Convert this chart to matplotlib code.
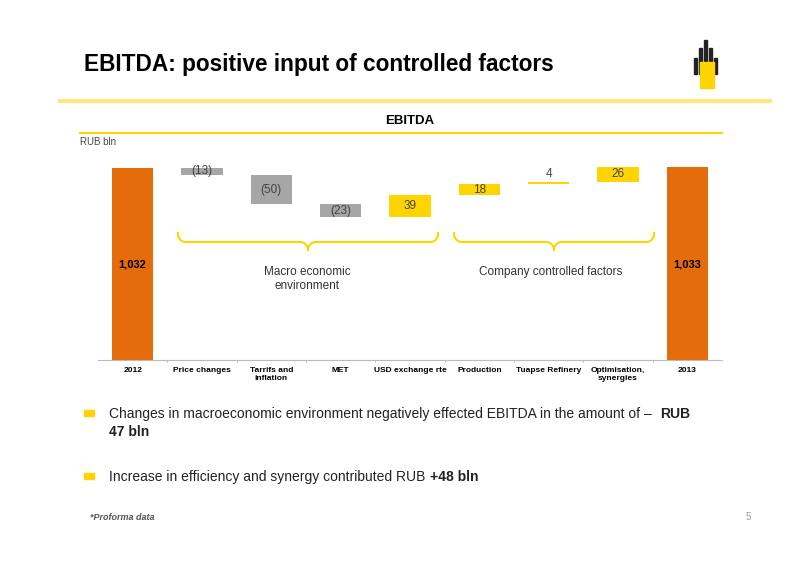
import matplotlib
matplotlib.use("Agg")
import matplotlib.pyplot as plt
import numpy as np
from matplotlib.patches import Rectangle

plt.rcParams['font.family'] = ['Liberation Sans', 'DejaVu Sans']

categories = ["2012", "Price changes", "Tarrifs and\ninflation", "MET", "USD exchange rte",
              "Production", "Tuapse Refinery", "Optimisation,\nsynergies", "2013"]
values = [1032, -13, -50, -23, 39, 18, 4, 26, 1033]
labels = ["1,032", "(13)", "(50)", "(23)", "39", "18", "4", "26", "1,033"]

ORANGE = "#E46C0A"
GREY = "#A6A6A6"
YELLOW = "#FFD400"

fig = plt.figure(figsize=(8, 5.66), dpi=100)
ax = fig.add_axes([98/800, 1-360/566, 624/800, 200/566])
ax.set_xlim(-0.5, len(categories)-0.5)
ax.set_ylim(700, 1045)
for s in ["top", "right", "left"]:
    ax.spines[s].set_visible(False)
ax.spines["bottom"].set_color("#BBBBBB")
ax.set_yticks([])
ax.set_xticks(np.arange(len(categories)))
ax.set_xticklabels(categories, fontsize=6, fontweight="bold", va="top")
ax.tick_params(axis="x", length=0, pad=5)
for b in np.arange(0.5, len(categories)-1, 1):
    ax.plot([b, b], [700, 696], color="#BBBBBB", lw=0.6, clip_on=False)

run = 0
for i, v in enumerate(values):
    if i == 0 or i == len(values)-1:
        ax.bar(i, v-700, bottom=700, width=0.6, color=ORANGE)
        ax.text(i, 864, labels[i], ha="center", va="center", fontsize=8, fontweight="bold")
        run = v
    else:
        lo, hi = (run+v, run) if v < 0 else (run, run+v)
        ax.bar(i, hi-lo, bottom=lo, width=0.6, color=GREY if v < 0 else YELLOW)
        ypos = (lo+hi)/2 if abs(v) > 10 else hi+3
        ax.text(i, ypos, labels[i], ha="center", va="center" if abs(v) > 10 else "bottom",
                fontsize=8.5, color="#444444")
        run += v

ov = fig.add_axes([0, 0, 1, 1], facecolor="none")
ov.set_xlim(0, 800); ov.set_ylim(566, 0); ov.axis("off")
ov.text(84, 64, "EBITDA: positive input of controlled factors", fontsize=16.3, fontweight="bold", va="center")
ov.plot([60, 770], [101, 101], color="#FFE680", lw=3)
ov.text(410, 121, "EBITDA", fontsize=9.5, fontweight="bold", ha="center", va="center")
ov.plot([80, 722], [133, 133], color=YELLOW, lw=1.5)
ov.text(80, 142, "RUB bln", fontsize=7, color="#444444", va="center")

def brace(x0, x1, y0, y1):
    xm = (x0+x1)/2
    t = np.linspace(0, np.pi/2, 20)
    r = 8
    xs = [x0] + list(x0 + r - r*np.cos(t)) + [xm - r] + list(xm - r + r*np.sin(t))
    ys = [y0 - 1] + list(y0 + r*np.sin(t)) + [y0 + r] + list(y0 + r + r*(1-np.cos(t)))
    ov.plot(xs, ys, color=YELLOW, lw=1.5)
    ov.plot([2*xm - x for x in xs], ys, color=YELLOW, lw=1.5)

brace(178, 438, 234, 258)
brace(454, 654, 234, 258)
ov.text(307, 279, "Macro economic\nenvironment", fontsize=8.5, ha="center", va="center", color="#333333")
ov.text(551, 272, "Company controlled factors", fontsize=8.5, ha="center", va="center", color="#333333")

ov.add_patch(Rectangle((84, 410), 10, 6, color=YELLOW))
ov.text(109, 414, "Changes in macroeconomic environment negatively effected EBITDA in the amount of –",
        fontsize=10, va="center", color="#222222")
ov.text(660, 414, "RUB", fontsize=10, va="center", fontweight="bold", color="#222222")
ov.text(109, 432, "47 bln", fontsize=10, va="center", fontweight="bold", color="#222222")
ov.add_patch(Rectangle((84, 473), 10, 6, color=YELLOW))
ov.text(109, 477, "Increase in efficiency and synergy contributed RUB", fontsize=10, va="center", color="#222222")
ov.text(430, 477, "+48 bln", fontsize=10, va="center", fontweight="bold", color="#222222")
ov.text(90, 517, "*Proforma data", fontsize=6.5, style="italic", fontweight="bold", color="#555555", va="center")
ov.text(746, 517, "5", fontsize=7, color="#999999", va="center")

for k, h in enumerate([16, 26, 34, 26, 16]):
    ov.add_patch(Rectangle((694 + k*5, 74 - h), 3, h, color="#222222"))
ov.add_patch(Rectangle((700, 62), 14, 26, color=YELLOW))

fig.savefig("out.png", dpi=100)
